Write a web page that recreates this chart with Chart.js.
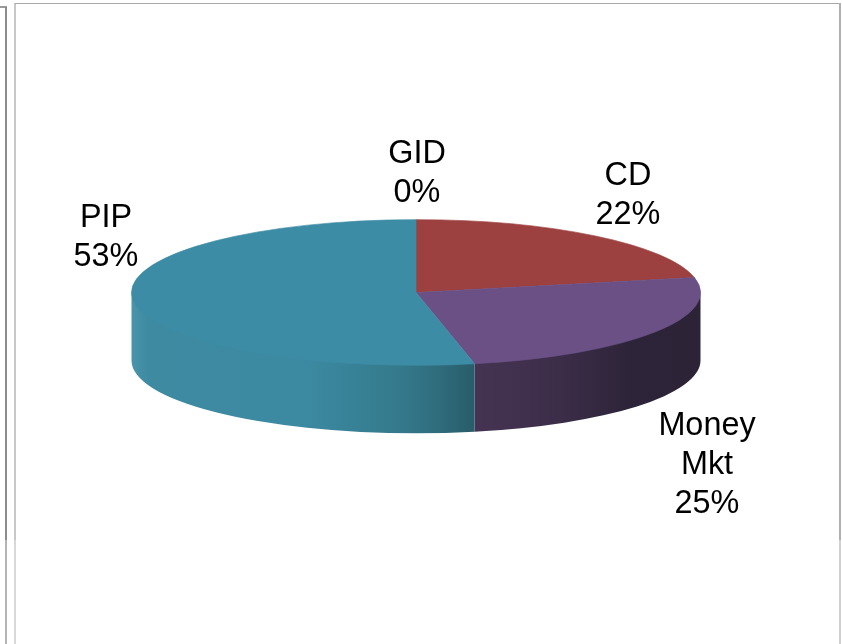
<!DOCTYPE html>
<html>
<head>
<meta charset="utf-8">
<title>Pie</title>
<script src="https://cdn.jsdelivr.net/npm/chart.js@4/dist/chart.umd.min.js"></script>
<style>
html, body { margin: 0; padding: 0; background: #fff; overflow: hidden; }
#wrap { position: relative; width: 842px; height: 644px; }
#pieChart { position: absolute; left: 0; top: 0; }
.rule { position: absolute; }
</style>
</head>
<body>
<div id="wrap">
  <canvas id="pieChart" width="842" height="644"></canvas>
  <div class="rule" style="left:0;top:6px;width:7px;height:2px;background:#9a9a9a"></div>
  <div class="rule" style="left:5px;top:7px;width:2px;height:533px;background:#8c8c8c"></div>
  <div class="rule" style="left:5px;top:540px;width:2px;height:104px;background:#b4b4b4"></div>
  <div class="rule" style="left:14px;top:3px;width:2px;height:537px;background:#c8c8c8"></div>
  <div class="rule" style="left:14px;top:540px;width:2px;height:104px;background:#d8d8d8"></div>
  <div class="rule" style="left:15px;top:3px;width:826px;height:1px;background:#a8a8a8"></div>
  <div class="rule" style="left:839px;top:3px;width:2px;height:537px;background:#b0b0b0"></div>
  <div class="rule" style="left:839px;top:540px;width:2px;height:104px;background:#d0d0d0"></div>
</div>
<script>
var categories = ['GID', 'CD', 'Money Mkt', 'PIP'];
var shares = [0, 21.7, 25, 53.3];
var percentLabels = ['0%', '22%', '25%', '53%'];
var topColors = ['#7d9a45', '#9c413f', '#6a5085', '#3d8ca5'];
var edgeColors = ['rgba(0,0,0,0)', '#9c413f', '#6a5085', '#3d8ca5'];

// the pie is a flat circle for Chart.js, these make it look tilted
var squash = 73 / 285;
var depth = 68;
var labelFont = '32.4px "Liberation Sans", Arial, sans-serif';
var lineHeight = 39;

// label centres (first line), by category
var labelLines = [['GID'], ['CD'], ['Money', 'Mkt'], ['PIP']];
var labelSpots = [[417, 154], [628, 176], [707, 426], [106, 218]];

function sideGradient(ctx, index) {
    var g = ctx.createLinearGradient(131, 0, 701, 0);
    if (index === 3) {
        g.addColorStop(0, '#4a95ab');
        g.addColorStop(0.03, '#3d8aa1');
        g.addColorStop(0.30, '#3c8aa2');
        g.addColorStop(0.47, '#347a8c');
        g.addColorStop(0.54, '#2f6c7c');
        g.addColorStop(0.60, '#295d6b');
        g.addColorStop(1, '#295d6b');
    } else {
        g.addColorStop(0, '#4a3656');
        g.addColorStop(0.60, '#463353');
        g.addColorStop(0.75, '#3c2d49');
        g.addColorStop(0.87, '#2e2439');
        g.addColorStop(1, '#2d2337');
    }
    return g;
}

var tiltPlugin = {
    id: 'tilt',
    beforeDatasetsDraw: function (chart) {
        var ctx = chart.ctx;
        var arcs = chart.getDatasetMeta(0).data;
        var cx = arcs[0].x, cy = arcs[0].y, r = arcs[0].outerRadius;
        var ry = r * squash;

        // rim, only the part of each slice facing the viewer
        // starts a bit under the top face so no white seam shows
        arcs.forEach(function (arc, i) {
            var a0 = Math.max(arc.startAngle, 0);
            var a1 = Math.min(arc.endAngle, Math.PI);
            if (a1 <= a0) return;
            ctx.beginPath();
            ctx.ellipse(cx, cy - 2, r, ry, 0, a0, a1);
            ctx.lineTo(cx + r * Math.cos(a1), cy + ry * Math.sin(a1) + depth);
            ctx.ellipse(cx, cy + depth, r, ry, 0, a1, a0, true);
            ctx.closePath();
            ctx.fillStyle = sideGradient(ctx, i);
            ctx.fill();
        });

        ctx.save();
        ctx.translate(0, cy);
        ctx.scale(1, squash);
        ctx.translate(0, -cy);
    },
    afterDatasetsDraw: function (chart) {
        var ctx = chart.ctx;
        ctx.restore();

        ctx.save();
        ctx.font = labelFont;
        ctx.fillStyle = '#000';
        ctx.textAlign = 'center';
        ctx.textBaseline = 'middle';
        labelLines.forEach(function (lines, i) {
            lines.concat(percentLabels[i]).forEach(function (txt, j) {
                ctx.fillText(txt, labelSpots[i][0], labelSpots[i][1] + j * lineHeight);
            });
        });
        ctx.restore();
    }
};

var ctx = document.getElementById('pieChart').getContext('2d');
var myChart = new Chart(ctx, {
    type: 'pie',
    data: {
        labels: categories,
        datasets: [{
            data: shares,
            backgroundColor: topColors,
            borderColor: edgeColors,
            borderWidth: 1,
            clip: false
        }]
    },
    options: {
        responsive: false,
        animation: false,
        layout: { padding: { left: 131, right: 141, top: 7, bottom: 66 } },
        plugins: {
            legend: { display: false },
            tooltip: { enabled: false }
        }
    },
    plugins: [tiltPlugin]
});
</script>
</body>
</html>
